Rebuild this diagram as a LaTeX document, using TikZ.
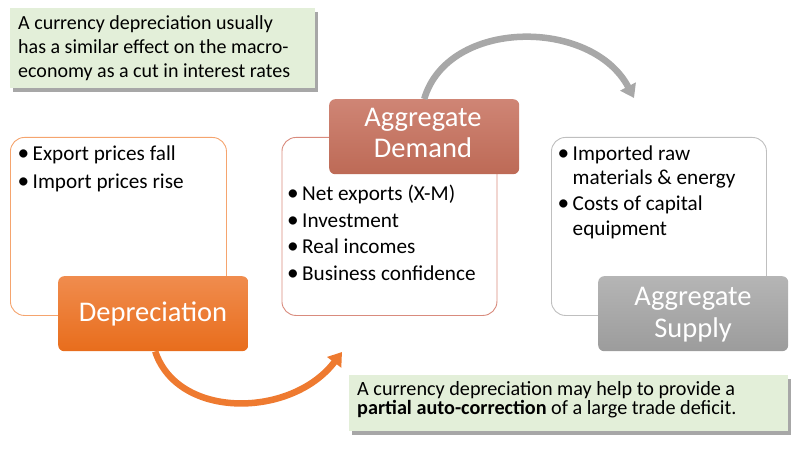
\documentclass[tikz,border=0pt]{standalone}
\usepackage{fontspec}
\setmainfont{Carlito}
\usetikzlibrary{arrows.meta,shadows}
\definecolor{notegreen}{HTML}{E3EFD9}
\definecolor{orangeline}{HTML}{F5A46E}
\definecolor{redline}{HTML}{D98B7D}
\definecolor{grayline}{HTML}{BFBFBF}
\definecolor{deptop}{HTML}{F08C4E}
\definecolor{depbot}{HTML}{E86D1C}
\definecolor{adtop}{HTML}{CF8575}
\definecolor{adbot}{HTML}{BD6A56}
\definecolor{astop}{HTML}{B5B5B5}
\definecolor{asbot}{HTML}{9C9C9C}
\definecolor{arrorange}{HTML}{EE7A30}
\definecolor{arrgray}{HTML}{A8A8A8}
\definecolor{shadowgray}{HTML}{8A8A8A}
\tikzset{
  notebox/.style={fill=notegreen, draw=none, anchor=north west, inner sep=0pt,
    drop shadow={shadow xshift=3pt, shadow yshift=-3.5pt, fill=shadowgray, opacity=0.75}},
  listbox/.style={draw, line width=0.9pt, rounded corners=14pt, anchor=north west, inner sep=0pt, fill=white},
  headbox/.style={rounded corners=6pt, anchor=north west, inner sep=0pt, minimum width=190pt, minimum height=75pt},
  headtxt/.style={text=white, font=\fontsize{28.5}{31}\selectfont, inner sep=0pt, anchor=base},
  notetxt/.style={font=\fontsize{20}{23.5}\selectfont, inner sep=0pt, anchor=base west},
  bottxt/.style={font=\fontsize{20.2}{19}\selectfont, inner sep=0pt, anchor=base west},
  itemtxt/.style={font=\fontsize{21.2}{24}\selectfont, inner sep=0pt, anchor=base west},
  bigarrow/.style={line width=6.5pt, -{Triangle[width=17pt,length=13pt]}},
}
\newcommand{\bul}{\makebox[13pt][l]{\hspace{-2pt}\scalebox{1.1}{\textbullet}}}
\begin{document}
\begin{tikzpicture}[x=1pt,y=-1pt]
\useasboundingbox (0,0) rectangle (800,449);
% top note
\node[notebox, minimum width=305pt, minimum height=80pt] (note1) at (10,8) {};
\node[notetxt] (n1a) at (18,30) {A currency depreciation usually};
\node[notetxt] (n1b) at (18,54) {has a similar effect on the macro-};
\node[notetxt] (n1c) at (18,77.5) {economy as a cut in interest rates};
% list boxes
\node[listbox, draw=orangeline, minimum width=216pt, minimum height=178pt] (lbox) at (10,137) {};
\node[listbox, draw=redline, minimum width=215pt, minimum height=178pt] (mbox) at (281.5,137) {};
\node[listbox, draw=grayline, minimum width=215pt, minimum height=178pt] (rbox) at (551,137) {};
% left items
\node[itemtxt] (l1) at (19.5,161) {\bul Export prices fall};
\node[itemtxt] (l2) at (19.5,189) {\bul Import prices rise};
% middle items
\node[itemtxt] (m1) at (289,200.5) {\bul Net exports (X-M)};
\node[itemtxt] (m2) at (289,227) {\bul Investment};
\node[itemtxt] (m3) at (289,253.5) {\bul Real incomes};
\node[itemtxt] (m4) at (289,280) {\bul Business confidence};
% right items
\node[itemtxt] (r1) at (559.5,161) {\bul Imported raw};
\node[itemtxt] (r2) at (559.5,185) {\hspace{13pt}materials \& energy};
\node[itemtxt] (r3) at (559.5,211) {\bul Costs of capital};
\node[itemtxt] (r4) at (559.5,235) {\hspace{13pt}equipment};
% head boxes
\node[headbox, top color=deptop, bottom color=depbot] (dep) at (58,276) {};
\node[headtxt] (deptxt) at (153,321) {Depreciation};
\node[headbox, top color=adtop, bottom color=adbot] (ad) at (329,99) {};
\node[headtxt] (adtxt1) at (423,127) {Aggregate};
\node[headtxt] (adtxt2) at (423,158) {Demand};
\node[headbox, top color=astop, bottom color=asbot] (as) at (598,276) {};
\node[headtxt] (astxt1) at (693,305) {Aggregate};
\node[headtxt] (astxt2) at (693,337) {Supply};
% bottom note
\node[notebox, minimum width=439pt, minimum height=56pt] (note2) at (349,375) {};
\node[bottxt] (n2a) at (357,395) {A currency depreciation may help to provide a};
\node[bottxt] (n2b) at (357,414) {\textbf{partial auto-correction} of a large trade deficit.};
% arrows
\coordinate (depstart) at ([xshift=2pt]dep.south);
\coordinate (deptip) at (342,352);
\draw[bigarrow, arrorange] (depstart) .. controls (178,420) and (292,418) .. (deptip);
\coordinate (adstart) at (ad.north);
\coordinate (adtip) at (634,98);
\draw[bigarrow, arrgray] (adstart) .. controls (448,18) and (592,18) .. (adtip);
\end{tikzpicture}
\end{document}
